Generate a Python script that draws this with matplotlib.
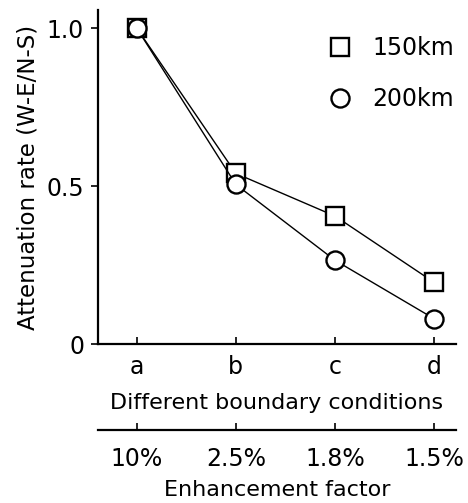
import numpy as np
import matplotlib
matplotlib.use("Agg")
import matplotlib.pyplot as plt
from matplotlib.lines import Line2D

# boundary conditions and enhancement factors
conditions = ["a", "b", "c", "d"]
enhancement = ["10%", "2.5%", "1.8%", "1.5%"]
rate_150km = [1.0, 0.54, 0.405, 0.195]
rate_200km = [1.0, 0.505, 0.265, 0.08]

plt.rcParams['font.family'] = ['DejaVu Sans']

fig = plt.figure(figsize=(4.68, 5.03), dpi=100)
ax = fig.add_axes([0.2094, 0.316, 0.765, 0.664])

xpos = np.arange(len(conditions))
ax.plot(xpos, rate_150km, color='black', lw=1.0, marker='s', ms=13,
        mfc='white', mec='black', mew=1.7, zorder=3)
ax.plot(xpos, rate_200km, color='black', lw=1.0, marker='o', ms=13,
        mfc='white', mec='black', mew=1.7, zorder=3)

ax.set_xlim(-0.39, 3.22)
ax.set_ylim(0, 1.057)
ax.spines['top'].set_visible(False)
ax.spines['right'].set_visible(False)
ax.spines['left'].set_linewidth(1.6)
ax.spines['bottom'].set_linewidth(1.6)

ax.set_xticks(xpos)
ax.set_xticklabels(conditions)
ax.set_yticks([0, 0.5, 1.0])
ax.set_yticklabels(["0", "0.5", "1.0"])
ax.tick_params(axis='x', direction='in', length=5, width=1.2, labelsize=17, pad=8)
ax.tick_params(axis='y', direction='out', length=5, width=1.2, labelsize=17, pad=5)

ax.set_xlabel("Different boundary conditions", fontsize=16, labelpad=10)
ax.set_ylabel("Attenuation rate (W-E/N-S)", fontsize=16.5, labelpad=5)

sec = ax.secondary_xaxis(-0.257)
sec.set_xticks(xpos)
sec.set_xticklabels(enhancement)
sec.spines['bottom'].set_linewidth(1.6)
sec.tick_params(direction='in', length=5, width=1.2, labelsize=17, pad=12)
sec.set_xlabel("Enhancement factor", fontsize=16, labelpad=7)

handles = [
    Line2D([], [], ls='none', marker='s', ms=13, mfc='white', mec='black', mew=1.7),
    Line2D([], [], ls='none', marker='o', ms=13, mfc='white', mec='black', mew=1.7),
]
ax.legend(handles, ["150km", "200km"], loc='upper right', frameon=False,
          fontsize=17, handlelength=0.8, handletextpad=1.0, labelspacing=1.15,
          bbox_to_anchor=(1.055, 0.985))

fig.savefig("out.png", dpi=100)
